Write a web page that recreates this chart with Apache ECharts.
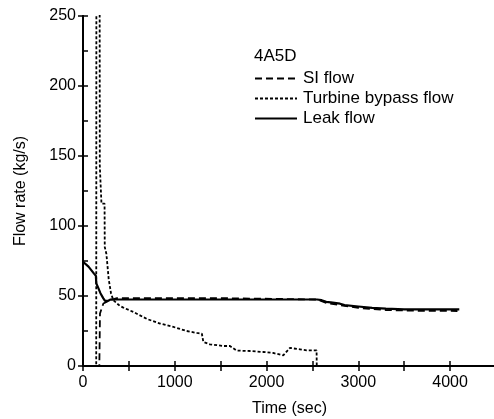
<!DOCTYPE html>
<html>
<head>
<meta charset="utf-8">
<script src="https://cdn.jsdelivr.net/npm/echarts@6/dist/echarts.min.js"></script>
<style>
html,body{margin:0;padding:0;background:#fff;}
#chart{width:494px;height:419px;}
</style>
</head>
<body>
<div id="chart"></div>
<script>
// Time (sec) and flow rate (kg/s)
const leakTime = [0, 60, 120, 140, 145, 165, 190, 220, 240, 270, 300, 2550, 2600, 2650, 2700, 2800, 2850, 3000, 3150, 3300, 3500, 4100];
const leakFlow = [74.5, 71, 66, 64.5, 59, 56, 52, 48.5, 46.5, 46.5, 47.5, 47.5, 47, 45.8, 45.5, 44.5, 43.5, 42.5, 41.5, 41, 40.5, 40.5];

const siTime = [0, 178, 185, 222, 294, 370, 1470, 1480, 2550, 2650, 2800, 3000, 3300, 3600, 4080];
const siFlow = [0, 0, 37.5, 44.6, 47, 48.5, 48.5, 47.5, 47.5, 45, 43.5, 41.5, 40, 39.5, 39.3];

const tbTime = [0, 144, 146, 181, 183, 199, 201, 235, 237, 255, 280, 305, 330, 400, 440, 549, 700, 840, 985, 1130, 1240, 1295, 1311, 1383, 1528, 1601, 1674, 1819, 1964, 2073, 2182, 2255, 2364, 2437, 2545, 2547, 4030];
const tbFlow = [0, 0, 300, 300, 143, 143, 116, 116, 85, 80, 62, 52, 47, 43, 41.7, 38.6, 33.5, 30.3, 27.9, 25, 23.6, 23.1, 17.2, 15.5, 14.3, 14.3, 11, 10.7, 10, 9.3, 7.6, 12.9, 11.9, 11.2, 11.2, 0, 0];

const xTicks = [0, 1000, 2000, 3000, 4000];
const yTicks = [0, 50, 100, 150, 200, 250];

const seriesNames = ['SI flow', 'Turbine bypass flow', 'Leak flow'];
const caseLabel = '4A5D';

function pairs(t, v) { return t.map((x, i) => [x, v[i]]); }

const FONT = 'Liberation Sans, Arial, sans-serif';
const chart = echarts.init(document.getElementById('chart'), null, {renderer: 'canvas'});

const axisLine = {show: true, lineStyle: {color: '#000', width: 2}};
chart.setOption({
  animation: false,
  backgroundColor: '#fff',
  title: {
    text: caseLabel, left: 254, top: 48, padding: 0,
    textStyle: {fontFamily: FONT, fontSize: 17, fontWeight: 'normal', color: '#000'}
  },
  legend: {
    orient: 'vertical', left: 254, top: 70, padding: 0,
    itemWidth: 42, itemHeight: 14, itemGap: 3,
    data: seriesNames,
    itemStyle: {opacity: 0},
    textStyle: {fontFamily: FONT, fontSize: 17, color: '#000', padding: [0, 0, 0, 1]}
  },
  grid: {left: 83, top: 16, width: 413, height: 350, containLabel: false, outerBoundsMode: 'none'},
  xAxis: [{
    type: 'value', min: 0, max: 4500, interval: 500, position: 'bottom',
    name: 'Time (sec)', nameLocation: 'middle', nameGap: 35,
    nameTextStyle: {fontFamily: FONT, fontSize: 16, color: '#000'},
    axisLine: axisLine,
    axisTick: {show: true, inside: true, length: 5, lineStyle: {color: '#000', width: 1.5}},
    axisLabel: {
      margin: 9, fontFamily: FONT, fontSize: 16, color: '#000',
      formatter: v => xTicks.includes(v) ? String(v) : ''
    },
    splitLine: {show: false}
  }, {
    type: 'value', min: 0, max: 4500, interval: 500, position: 'top',
    axisLine: axisLine,
    axisTick: {show: true, inside: true, length: 5, lineStyle: {color: '#000', width: 1.5}},
    axisLabel: {show: false},
    splitLine: {show: false}
  }],
  yAxis: [{
    type: 'value', min: 0, max: 250, interval: 25, position: 'left',
    name: 'Flow rate (kg/s)', nameLocation: 'middle', nameGap: 54,
    nameTextStyle: {fontFamily: FONT, fontSize: 16, color: '#000'},
    axisLine: axisLine,
    axisTick: {show: true, inside: true, length: 5, lineStyle: {color: '#000', width: 1.5}},
    axisLabel: {
      margin: 7, fontFamily: FONT, fontSize: 16, color: '#000',
      formatter: v => yTicks.includes(v) ? String(v) : ''
    },
    splitLine: {show: false}
  }, {
    type: 'value', min: 0, max: 250, interval: 50, position: 'right',
    axisLine: axisLine,
    axisTick: {show: true, inside: true, length: 5, lineStyle: {color: '#000', width: 1.5}},
    axisLabel: {show: false},
    splitLine: {show: false}
  }],
  series: [{
    name: seriesNames[0], type: 'line', data: pairs(siTime, siFlow),
    symbol: 'none', clip: true, z: 3,
    lineStyle: {color: '#000', width: 1.8, type: [7, 4]}, itemStyle: {color: '#000'}
  }, {
    name: seriesNames[1], type: 'line', data: pairs(tbTime, tbFlow),
    symbol: 'none', clip: true, z: 2,
    lineStyle: {color: '#000', width: 1.8, type: [3, 2]}, itemStyle: {color: '#000'}
  }, {
    name: seriesNames[2], type: 'line', data: pairs(leakTime, leakFlow),
    symbol: 'none', clip: true, z: 4,
    lineStyle: {color: '#000', width: 2.2}, itemStyle: {color: '#000'}
  }]
});
</script>
</body>
</html>
